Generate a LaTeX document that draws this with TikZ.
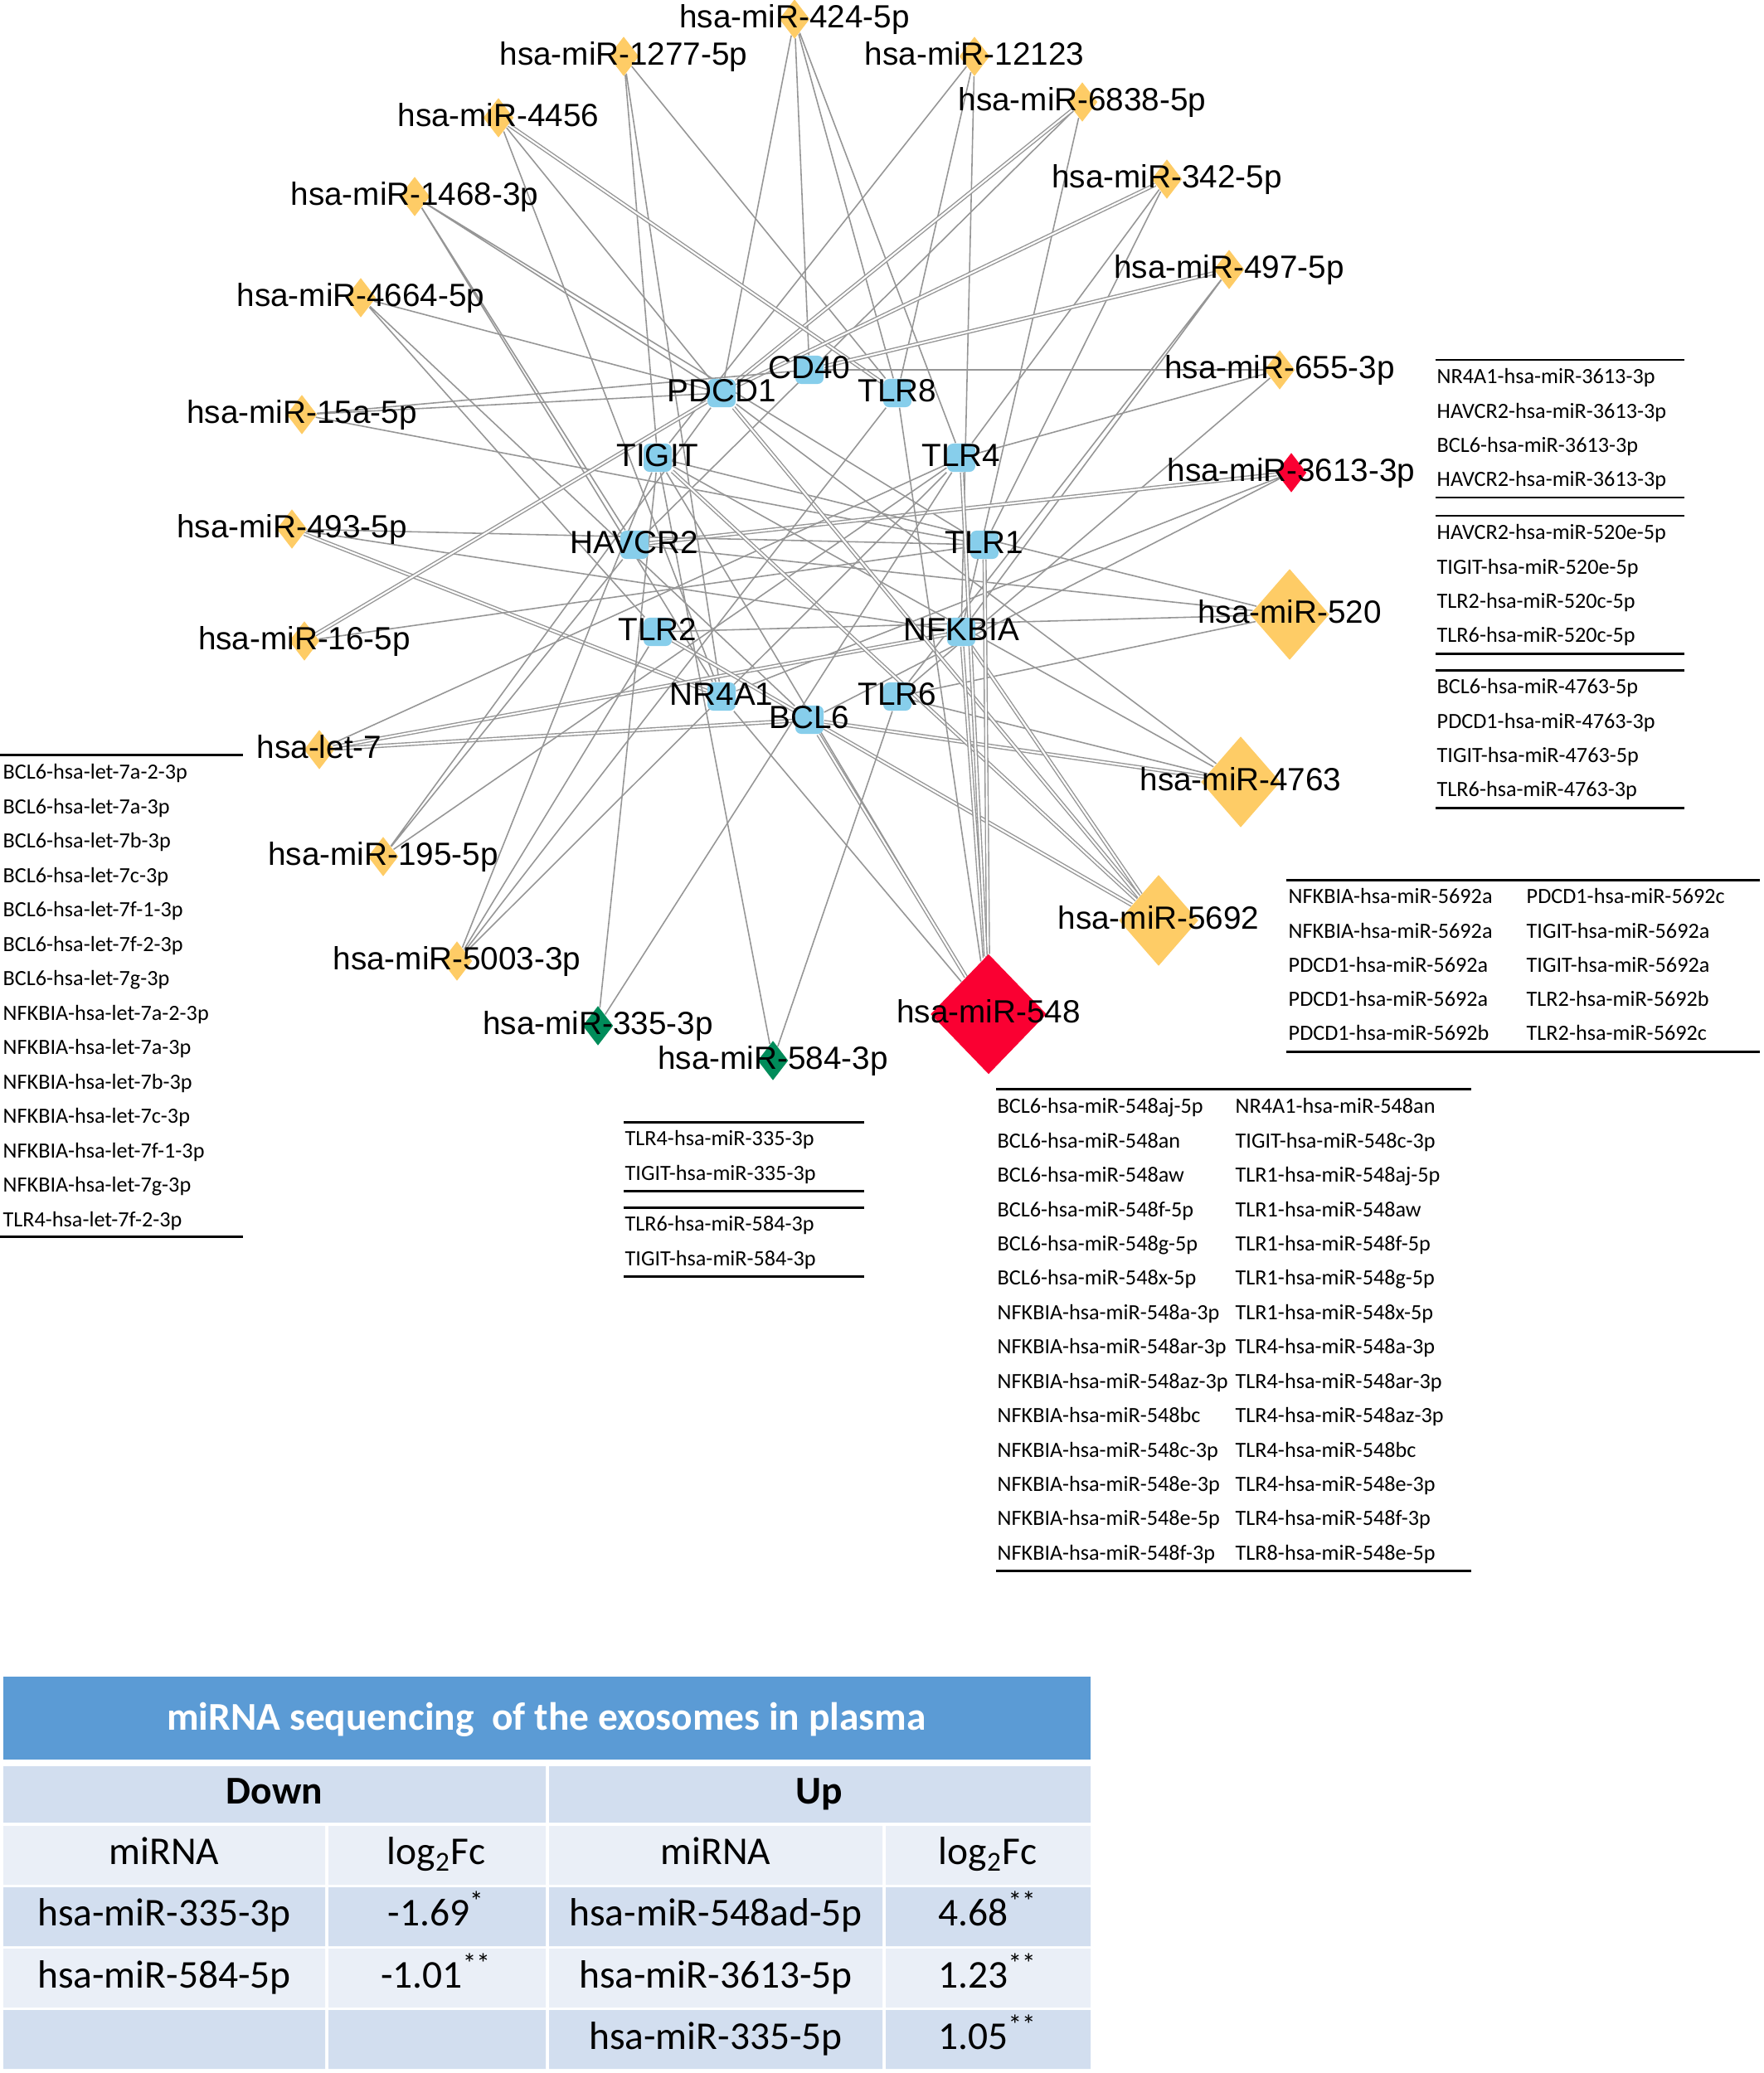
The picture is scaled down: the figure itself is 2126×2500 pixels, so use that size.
\documentclass[tikz,border=0pt]{standalone}
\usepackage{fontspec}
\setmainfont{Liberation Sans}
\newfontfamily\tabfont{Carlito}
\usetikzlibrary{shapes.geometric}
\pgfdeclarelayer{links}
\pgfsetlayers{links,main}
\definecolor{mirgold}{RGB}{254,204,102}
\definecolor{mirred}{RGB}{250,0,50}
\definecolor{mirgreen}{RGB}{0,140,90}
\definecolor{geneblue}{RGB}{135,206,235}
\definecolor{linkgray}{RGB}{150,150,150}
\definecolor{headblue}{RGB}{91,155,213}
\definecolor{banddark}{RGB}{210,222,239}
\definecolor{bandlight}{RGB}{234,239,247}
\tikzset{
	netlabel/.style={font=\fontsize{11}{13}\selectfont, inner sep=0pt, text height=8pt, text depth=2.3pt},
	mir/.style={diamond, fill=mirgold, inner sep=0pt, minimum width=0.37cm, minimum height=0.48cm},
	mirbig/.style={mir, minimum width=0.96cm, minimum height=1.1cm},
	gene/.style={rectangle, rounded corners=2pt, fill=geneblue, inner sep=0pt, minimum size=0.34cm},
	link/.style={draw=linkgray, line width=0.45pt},
	dbl/.style={draw=linkgray, double=white, double distance=0.6pt, line width=0.4pt},
	pairtext/.style={font=\tabfont\fontsize{7.45}{9}\selectfont, anchor=west, inner sep=0pt, text height=5.5pt, text depth=1.6pt},
	tabrule/.style={line width=0.85pt},
	celltext/.style={font=\tabfont\fontsize{13.5}{16}\selectfont, inner sep=0pt, text height=9.5pt, text depth=2.8pt}
}

\begin{document}
\begin{tikzpicture}[x=0.01cm, y=-0.01cm]
	\useasboundingbox (0,0) rectangle (2126,2500);

	% genes
	\node[gene, label={[netlabel]center:CD40}] (CD40) at (976,446) {};
	\node[gene, label={[netlabel]center:TLR8}] (TLR8) at (1082,474) {};
	\node[gene, label={[netlabel]center:TLR4}] (TLR4) at (1159,552) {};
	\node[gene, label={[netlabel]center:TLR1}] (TLR1) at (1187,657) {};
	\node[gene, label={[netlabel]center:NFKBIA}] (NFKBIA) at (1159,762) {};
	\node[gene, label={[netlabel]center:TLR6}] (TLR6) at (1082,840) {};
	\node[gene, label={[netlabel]center:BCL6}] (BCL6) at (976,868) {};
	\node[gene, label={[netlabel]center:NR4A1}] (NR4A1) at (870,840) {};
	\node[gene, label={[netlabel]center:TLR2}] (TLR2) at (793,762) {};
	\node[gene, label={[netlabel]center:HAVCR2}] (HAVCR2) at (765,657) {};
	\node[gene, label={[netlabel]center:TIGIT}] (TIGIT) at (793,552) {};
	\node[gene, label={[netlabel]center:PDCD1}] (PDCD1) at (870,474) {};

	% miRNAs
	\node[mir, label={[netlabel]center:hsa-miR-424-5p}] (m424) at (958,23) {};
	\node[mir, label={[netlabel]center:hsa-miR-1277-5p}] (m1277) at (752,68) {};
	\node[mir, label={[netlabel]center:hsa-miR-12123}] (m12123) at (1175,68) {};
	\node[mir, label={[netlabel]center:hsa-miR-6838-5p}] (m6838) at (1305,123) {};
	\node[mir, label={[netlabel]center:hsa-miR-4456}] (m4456) at (601,142) {};
	\node[mir, label={[netlabel]center:hsa-miR-342-5p}] (m342) at (1407,216) {};
	\node[mir, label={[netlabel]center:hsa-miR-1468-3p}] (m1468) at (500,237) {};
	\node[mir, label={[netlabel]center:hsa-miR-497-5p}] (m497) at (1482,325) {};
	\node[mir, label={[netlabel]center:hsa-miR-4664-5p}] (m4664) at (435,359) {};
	\node[mir, label={[netlabel]center:hsa-miR-655-3p}] (m655) at (1543,446) {};
	\node[mir, label={[netlabel]center:hsa-miR-15a-5p}] (m15a) at (364,500) {};
	\node[mir, fill=mirred, label={[netlabel]center:hsa-miR-3613-3p}] (m3613) at (1557,570) {};
	\node[mir, label={[netlabel]center:hsa-miR-493-5p}] (m493) at (352,638) {};
	\node[mirbig, label={[netlabel]center:hsa-miR-520}] (m520) at (1555,741) {};
	\node[mir, label={[netlabel]center:hsa-miR-16-5p}] (m16) at (367,773) {};
	\node[mir, label={[netlabel]center:hsa-let-7}] (let7) at (385,904) {};
	\node[mirbig, label={[netlabel]center:hsa-miR-4763}] (m4763) at (1496,943) {};
	\node[mir, label={[netlabel]center:hsa-miR-195-5p}] (m195) at (462,1033) {};
	\node[mirbig, label={[netlabel]center:hsa-miR-5692}] (m5692) at (1397,1110) {};
	\node[mir, label={[netlabel]center:hsa-miR-5003-3p}] (m5003) at (551,1159) {};
	\node[mir, fill=mirred, minimum width=1.4cm, minimum height=1.45cm, label={[netlabel]center:hsa-miR-548}] (m548) at (1192,1223) {};
	\node[mir, fill=mirgreen, label={[netlabel]center:hsa-miR-335-3p}] (m335) at (721,1237) {};
	\node[mir, fill=mirgreen, label={[netlabel]center:hsa-miR-584-3p}] (m584) at (932,1279) {};

	% interactions
	\begin{pgfonlayer}{links}
	\draw[link] (m424) -- (PDCD1) (m424) -- (CD40) (m424) -- (TLR8) (m424) -- (TLR4);
	\draw[link] (m1277) -- (TIGIT) (m1277) -- (NR4A1) (m1277) -- (TLR8);
	\draw[link] (m12123) -- (TIGIT) (m12123) -- (TLR8) (m12123) -- (NFKBIA);
	\draw[link] (m6838) -- (HAVCR2) (m6838) -- (NFKBIA);
	\draw[dbl] (m6838) -- (PDCD1);
	\draw[link] (m4456) -- (PDCD1) (m4456) -- (NR4A1);
	\draw[dbl] (m4456) -- (TLR8);
	\draw[link] (m342) -- (TLR4) (m342) -- (TLR1);
	\draw[dbl] (m342) -- (PDCD1);
	\draw[link] (m1468) -- (PDCD1) (m1468) -- (HAVCR2) (m1468) -- (NR4A1) (m1468) -- (TLR1);
	\draw[link] (m497) -- (NFKBIA) (m497) -- (TLR6);
	\draw[dbl] (m497) -- (CD40);
	\draw[link] (m4664) -- (PDCD1) (m4664) -- (TLR2) (m4664) -- (BCL6);
	\draw[link] (m655) -- (CD40) (m655) -- (TLR4) (m655) -- (TLR6);
	\draw[link] (m15a) -- (PDCD1) (m15a) -- (CD40) (m15a) -- (TLR1);
	\draw[link] (m3613) -- (NR4A1) (m3613) -- (BCL6);
	\draw[dbl] (m3613) -- (HAVCR2);
	\draw[link] (m493) -- (NFKBIA) (m493) -- (TLR1);
	\draw[dbl] (m493) -- (NR4A1);
	\draw[link] (m520) -- (HAVCR2) (m520) -- (TIGIT) (m520) -- (TLR2) (m520) -- (TLR6);
	\draw[link] (m16) -- (TLR1);
	\draw[dbl] (m16) -- (PDCD1);
	\draw[link] (let7) -- (TLR4);
	\draw[dbl] (let7) -- (BCL6);
	\draw[dbl] (let7) -- (NFKBIA);
	\draw[link] (m4763) -- (PDCD1) (m4763) -- (TIGIT) (m4763) -- (TLR6);
	\draw[dbl] (m4763) -- (BCL6);
	\draw[link] (m195) -- (PDCD1) (m195) -- (HAVCR2) (m195) -- (TLR4);
	\draw[dbl] (m5692) -- (NFKBIA);
	\draw[dbl] (m5692) -- (PDCD1);
	\draw[dbl] (m5692) -- (TIGIT);
	\draw[dbl] (m5692) -- (TLR2);
	\draw[link] (m5003) -- (TIGIT) (m5003) -- (TLR2) (m5003) -- (TLR4) (m5003) -- (TLR8);
	\draw[link] (m548) -- (NR4A1) (m548) -- (TIGIT) (m548) -- (TLR8);
	\draw[dbl] (m548) -- (BCL6);
	\draw[dbl] (m548) -- (NFKBIA);
	\draw[dbl] (m548) -- (TLR1);
	\draw[dbl] (m548) -- (TLR4);
	\draw[link] (m335) -- (TLR4) (m335) -- (TIGIT);
	\draw[link] (m584) -- (TLR6) (m584) -- (TIGIT);
	\end{pgfonlayer}

	% let-7 pairs
	\draw[tabrule] (0,910) -- (293,910);
	\node[pairtext] (l1) at (3,933) {BCL6-hsa-let-7a-2-3p};
	\node[pairtext] (l2) at (3,974.5) {BCL6-hsa-let-7a-3p};
	\node[pairtext] (l3) at (3,1016) {BCL6-hsa-let-7b-3p};
	\node[pairtext] (l4) at (3,1057.5) {BCL6-hsa-let-7c-3p};
	\node[pairtext] (l5) at (3,1099) {BCL6-hsa-let-7f-1-3p};
	\node[pairtext] (l6) at (3,1140.5) {BCL6-hsa-let-7f-2-3p};
	\node[pairtext] (l7) at (3,1182) {BCL6-hsa-let-7g-3p};
	\node[pairtext] (l8) at (3,1223.5) {NFKBIA-hsa-let-7a-2-3p};
	\node[pairtext] (l9) at (3,1265) {NFKBIA-hsa-let-7a-3p};
	\node[pairtext] (l10) at (3,1306.5) {NFKBIA-hsa-let-7b-3p};
	\node[pairtext] (l11) at (3,1348) {NFKBIA-hsa-let-7c-3p};
	\node[pairtext] (l12) at (3,1389.5) {NFKBIA-hsa-let-7f-1-3p};
	\node[pairtext] (l13) at (3,1431) {NFKBIA-hsa-let-7g-3p};
	\node[pairtext] (l14) at (3,1472.5) {TLR4-hsa-let-7f-2-3p};
	\draw[tabrule] (0,1491) -- (293,1491);

	% 3613 / 520 / 4763 pairs
	\draw[tabrule] (1731,434) -- (2031,434);
	\node[pairtext] (r1) at (1732,456) {NR4A1-hsa-miR-3613-3p};
	\node[pairtext] (r2) at (1732,498) {HAVCR2-hsa-miR-3613-3p};
	\node[pairtext] (r3) at (1732,539) {BCL6-hsa-miR-3613-3p};
	\node[pairtext] (r4) at (1732,580) {HAVCR2-hsa-miR-3613-3p};
	\draw[tabrule] (1731,600) -- (2031,600);
	\draw[tabrule] (1731,622) -- (2031,622);
	\node[pairtext] (r5) at (1732,644) {HAVCR2-hsa-miR-520e-5p};
	\node[pairtext] (r6) at (1732,686) {TIGIT-hsa-miR-520e-5p};
	\node[pairtext] (r7) at (1732,727) {TLR2-hsa-miR-520c-5p};
	\node[pairtext] (r8) at (1732,768) {TLR6-hsa-miR-520c-5p};
	\draw[tabrule] (1731,788) -- (2031,788);
	\draw[tabrule] (1731,808) -- (2031,808);
	\node[pairtext] (r9) at (1732,830) {BCL6-hsa-miR-4763-5p};
	\node[pairtext] (r10) at (1732,872) {PDCD1-hsa-miR-4763-3p};
	\node[pairtext] (r11) at (1732,913) {TIGIT-hsa-miR-4763-5p};
	\node[pairtext] (r12) at (1732,954) {TLR6-hsa-miR-4763-3p};
	\draw[tabrule] (1731,974) -- (2031,974);

	% 5692 pairs
	\draw[tabrule] (1551,1061) -- (2122,1061);
	\node[pairtext] (f1) at (1553,1083) {NFKBIA-hsa-miR-5692a};
	\node[pairtext] (f2) at (1553,1125) {NFKBIA-hsa-miR-5692a};
	\node[pairtext] (f3) at (1553,1166) {PDCD1-hsa-miR-5692a};
	\node[pairtext] (f4) at (1553,1207) {PDCD1-hsa-miR-5692a};
	\node[pairtext] (f5) at (1553,1248) {PDCD1-hsa-miR-5692b};
	\node[pairtext] (f6) at (1840,1083) {PDCD1-hsa-miR-5692c};
	\node[pairtext] (f7) at (1840,1125) {TIGIT-hsa-miR-5692a};
	\node[pairtext] (f8) at (1840,1166) {TIGIT-hsa-miR-5692a};
	\node[pairtext] (f9) at (1840,1207) {TLR2-hsa-miR-5692b};
	\node[pairtext] (f10) at (1840,1248) {TLR2-hsa-miR-5692c};
	\draw[tabrule] (1551,1268) -- (2122,1268);

	% 335 / 584 pairs
	\draw[tabrule] (752,1353) -- (1042,1353);
	\node[pairtext] (g1) at (753,1375) {TLR4-hsa-miR-335-3p};
	\node[pairtext] (g2) at (753,1417) {TIGIT-hsa-miR-335-3p};
	\draw[tabrule] (752,1436) -- (1042,1436);
	\draw[tabrule] (752,1456) -- (1042,1456);
	\node[pairtext] (g3) at (753,1478) {TLR6-hsa-miR-584-3p};
	\node[pairtext] (g4) at (753,1520) {TIGIT-hsa-miR-584-3p};
	\draw[tabrule] (752,1539) -- (1042,1539);

	% 548 pairs
	\draw[tabrule] (1201,1313) -- (1774,1313);
	\node[pairtext] (s1) at (1202,1336) {BCL6-hsa-miR-548aj-5p};
	\node[pairtext] (s2) at (1202,1377.5) {BCL6-hsa-miR-548an};
	\node[pairtext] (s3) at (1202,1419) {BCL6-hsa-miR-548aw};
	\node[pairtext] (s4) at (1202,1460.5) {BCL6-hsa-miR-548f-5p};
	\node[pairtext] (s5) at (1202,1502) {BCL6-hsa-miR-548g-5p};
	\node[pairtext] (s6) at (1202,1543) {BCL6-hsa-miR-548x-5p};
	\node[pairtext] (s7) at (1202,1584.5) {NFKBIA-hsa-miR-548a-3p};
	\node[pairtext] (s8) at (1202,1626) {NFKBIA-hsa-miR-548ar-3p};
	\node[pairtext] (s9) at (1202,1667.5) {NFKBIA-hsa-miR-548az-3p};
	\node[pairtext] (s10) at (1202,1709) {NFKBIA-hsa-miR-548bc};
	\node[pairtext] (s11) at (1202,1750.5) {NFKBIA-hsa-miR-548c-3p};
	\node[pairtext] (s12) at (1202,1792) {NFKBIA-hsa-miR-548e-3p};
	\node[pairtext] (s13) at (1202,1833) {NFKBIA-hsa-miR-548e-5p};
	\node[pairtext] (s14) at (1202,1875) {NFKBIA-hsa-miR-548f-3p};
	\node[pairtext] (s15) at (1489,1336) {NR4A1-hsa-miR-548an};
	\node[pairtext] (s16) at (1489,1377.5) {TIGIT-hsa-miR-548c-3p};
	\node[pairtext] (s17) at (1489,1419) {TLR1-hsa-miR-548aj-5p};
	\node[pairtext] (s18) at (1489,1460.5) {TLR1-hsa-miR-548aw};
	\node[pairtext] (s19) at (1489,1502) {TLR1-hsa-miR-548f-5p};
	\node[pairtext] (s20) at (1489,1543) {TLR1-hsa-miR-548g-5p};
	\node[pairtext] (s21) at (1489,1584.5) {TLR1-hsa-miR-548x-5p};
	\node[pairtext] (s22) at (1489,1626) {TLR4-hsa-miR-548a-3p};
	\node[pairtext] (s23) at (1489,1667.5) {TLR4-hsa-miR-548ar-3p};
	\node[pairtext] (s24) at (1489,1709) {TLR4-hsa-miR-548az-3p};
	\node[pairtext] (s25) at (1489,1750.5) {TLR4-hsa-miR-548bc};
	\node[pairtext] (s26) at (1489,1792) {TLR4-hsa-miR-548e-3p};
	\node[pairtext] (s27) at (1489,1833) {TLR4-hsa-miR-548f-3p};
	\node[pairtext] (s28) at (1489,1875) {TLR8-hsa-miR-548e-5p};
	\draw[tabrule] (1201,1894) -- (1774,1894);

	% sequencing table
	\fill[headblue] (4,2022) rectangle (1315,2122);
	\fill[banddark] (4,2130) rectangle (658,2198) (662,2130) rectangle (1315,2198);
	\fill[bandlight] (4,2202) rectangle (392,2273) (396,2202) rectangle (658,2273) (662,2202) rectangle (1064,2273) (1068,2202) rectangle (1315,2273);
	\fill[banddark] (4,2276) rectangle (392,2347) (396,2276) rectangle (658,2347) (662,2276) rectangle (1064,2347) (1068,2276) rectangle (1315,2347);
	\fill[bandlight] (4,2350) rectangle (392,2421) (396,2350) rectangle (658,2421) (662,2350) rectangle (1064,2421) (1068,2350) rectangle (1315,2421);
	\fill[banddark] (4,2424) rectangle (392,2495) (396,2424) rectangle (658,2495) (662,2424) rectangle (1064,2495) (1068,2424) rectangle (1315,2495);
	\node[celltext, text=white, font=\tabfont\bfseries\fontsize{13.5}{16}\selectfont] (title) at (659,2075) {miRNA sequencing\ \ of the exosomes in plasma};
	\node[celltext, font=\tabfont\bfseries\fontsize{13.5}{16}\selectfont] (down) at (331,2164) {Down};
	\node[celltext, font=\tabfont\bfseries\fontsize{13.5}{16}\selectfont] (up) at (988,2164) {Up};
	\node[celltext] (hmir1) at (198,2237) {miRNA};
	\node[celltext] (hfc1) at (526,2237) {log\textsubscript{2}Fc};
	\node[celltext] (hmir2) at (863,2237) {miRNA};
	\node[celltext] (hfc2) at (1191,2237) {log\textsubscript{2}Fc};
	\node[celltext] (d1) at (198,2311) {hsa-miR-335-3p};
	\node[celltext] (d1fc) at (526,2311) {-1.69\textsuperscript{*}};
	\node[celltext] (u1) at (863,2311) {hsa-miR-548ad-5p};
	\node[celltext] (u1fc) at (1191,2311) {4.68\textsuperscript{**}};
	\node[celltext] (d2) at (198,2386) {hsa-miR-584-5p};
	\node[celltext] (d2fc) at (526,2386) {-1.01\textsuperscript{**}};
	\node[celltext] (u2) at (863,2386) {hsa-miR-3613-5p};
	\node[celltext] (u2fc) at (1191,2386) {1.23\textsuperscript{**}};
	\node[celltext] (u3) at (863,2460) {hsa-miR-335-5p};
	\node[celltext] (u3fc) at (1191,2460) {1.05\textsuperscript{**}};
\end{tikzpicture}
\end{document}
